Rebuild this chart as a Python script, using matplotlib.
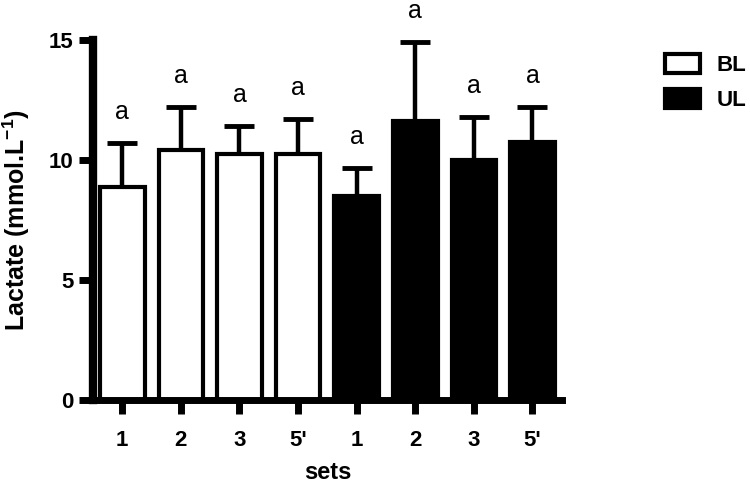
import matplotlib
matplotlib.use("Agg")
import matplotlib.pyplot as plt
from matplotlib.patches import Patch

plt.rcParams['font.family'] = ['Liberation Sans', 'DejaVu Sans']
plt.rcParams['mathtext.fontset'] = 'custom'
plt.rcParams['mathtext.bf'] = 'Liberation Sans:bold'
plt.rcParams['mathtext.rm'] = 'Liberation Sans'

tick_labels = ["1", "2", "3", "5'", "1", "2", "3", "5'"]
groups = ["BL"] * 4 + ["UL"] * 4
means = [8.88, 10.42, 10.25, 10.25, 8.5, 11.63, 10.0, 10.75]
upper_err = [1.82, 1.78, 1.17, 1.45, 1.17, 3.29, 1.8, 1.45]
letters = ["a"] * 8

fig = plt.figure(figsize=(7.5, 4.87), dpi=100)
ax = fig.add_axes([0.124, 0.179, 0.625, 0.739])

x = list(range(len(means)))
face = ['white' if g == 'BL' else 'black' for g in groups]
ax.bar(x, means, width=0.76, color=face, edgecolor='black', linewidth=3, zorder=2)
ax.errorbar(x, means, yerr=[[0] * len(means), upper_err], fmt='none', ecolor='black',
            elinewidth=3.2, capsize=11, capthick=3.5, zorder=1)
for xi, m, e, t in zip(x, means, upper_err, letters):
    ax.text(xi, m + e + 1.0, t, ha='center', va='baseline', fontsize=18, clip_on=False)

ax.set_xlim(-0.5, 7.5)
ax.set_ylim(0, 15)
ax.set_yticks([0, 5, 10, 15])
ax.set_xticks(x)
ax.set_xticklabels(tick_labels)
for lab in ax.get_xticklabels() + ax.get_yticklabels():
    lab.set_fontweight('bold')
    lab.set_fontsize(16)
ax.tick_params(axis='both', width=5, length=10)
ax.tick_params(axis='x', pad=12)
ax.tick_params(axis='y', pad=4)
ax.spines['top'].set_visible(False)
ax.spines['right'].set_visible(False)
ax.spines['left'].set_linewidth(6)
ax.spines['bottom'].set_linewidth(5)
ax.set_ylabel("Lactate (mmol.L$^{\\mathbf{-1}}$)", fontsize=18, fontweight='bold', labelpad=12)
ax.set_xlabel("sets", fontsize=17, fontweight='bold', labelpad=7)

handles = [Patch(facecolor='white', edgecolor='black', linewidth=3, label='BL'),
           Patch(facecolor='black', edgecolor='black', linewidth=3, label='UL')]
leg = fig.legend(handles=handles, loc='upper left', bbox_to_anchor=(0.886, 0.889),
                 frameon=False, prop={'weight': 'bold', 'size': 16}, borderpad=0,
                 borderaxespad=0,
                 handlelength=1.6, handleheight=0.95, handletextpad=0.75, labelspacing=0.55)

fig.savefig("out.png", dpi=100)
